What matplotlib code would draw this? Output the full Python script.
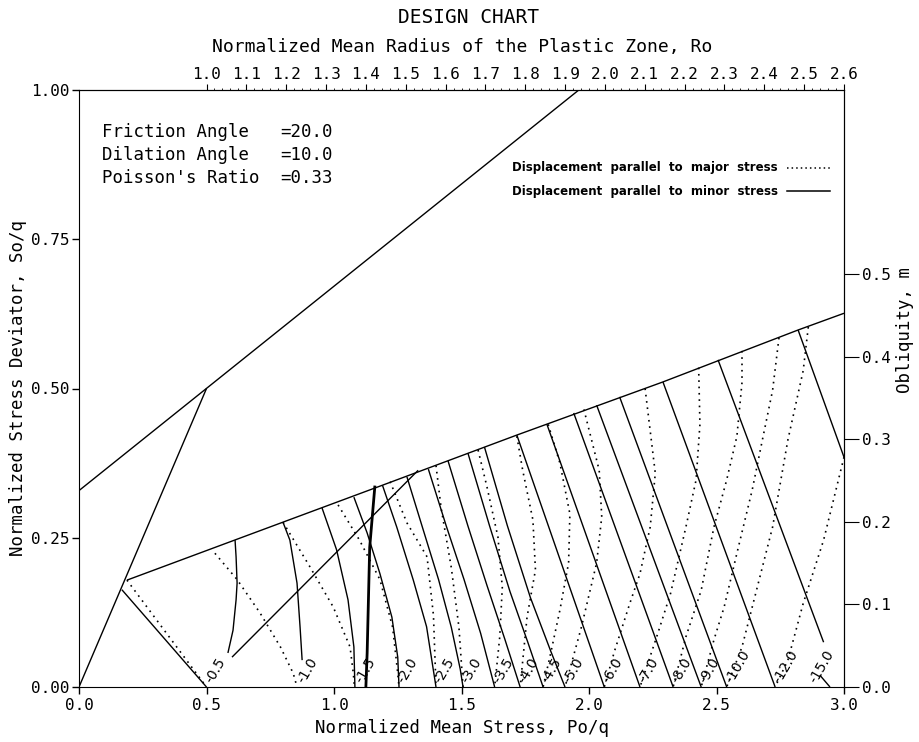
import numpy as np
import matplotlib.pyplot as plt

# lower boundary of the plastic chart region (Po/q, So/q)
env_po = [0.188, 0.61, 1.19, 1.717, 2.29, 2.82, 3.0]
env_so = [0.179, 0.246, 0.338, 0.422, 0.511, 0.598, 0.626]

# Mohr-Coulomb type upper line and the other straight guide lines
upper_po = [0.0, 1.96]
upper_so = [0.329, 1.0]
diag_po = [0.0, 0.5]
diag_so = [0.0, 0.5]
elastic_po = [0.5, 0.168]
elastic_so = [0.0, 0.163]
cross_po = [0.60, 1.33]
cross_so = [0.05, 0.363]
thick_po = [1.125, 1.13, 1.14, 1.16]
thick_so = [0.0, 0.057, 0.234, 0.335]

labels = ['-0.5', '-1.0', '-1.5', '-2.0', '-2.5', '-3.0', '-3.5', '-4.0', '-4.5',
          '-5.0', '-6.0', '-7.0', '-8.0', '-9.0', '-10.0', '-12.0', '-15.0']
label_po = [0.5, 0.862, 1.09, 1.255, 1.40, 1.506, 1.63, 1.73, 1.82,
            1.906, 2.06, 2.2, 2.33, 2.44, 2.54, 2.73, 2.87]

# displacement parallel to minor stress (solid)
minor_po = [
    [0.612, 0.616, 0.62, 0.616, 0.604, 0.584],
    [0.80, 0.827, 0.855, 0.867, 0.875],
    [0.953, 1.01, 1.055, 1.078, 1.082],
    [1.078, 1.13, 1.18, 1.227, 1.25, 1.255],
    [1.19, 1.246, 1.311, 1.363, 1.40],
    [1.286, 1.345, 1.41, 1.46, 1.495, 1.506],
    [1.37, 1.44, 1.51, 1.575, 1.63],
    [1.447, 1.525, 1.60, 1.67, 1.73],
    [1.525, 1.61, 1.69, 1.76, 1.82],
    [1.59, 1.68, 1.77, 1.85, 1.906],
    [1.717, 2.06],
    [1.835, 2.2],
    [1.94, 2.33],
    [2.03, 2.44],
    [2.12, 2.54],
    [2.29, 2.73],
    [2.506, 2.92],
    [2.82, 3.0],
]
minor_so = [
    [0.246, 0.218, 0.174, 0.146, 0.095, 0.057],
    [0.276, 0.246, 0.174, 0.10, 0.045],
    [0.30, 0.23, 0.146, 0.067, 0.0],
    [0.318, 0.258, 0.19, 0.117, 0.05, 0.0],
    [0.338, 0.268, 0.179, 0.101, 0.0],
    [0.352, 0.27, 0.18, 0.10, 0.03, 0.0],
    [0.365, 0.27, 0.18, 0.09, 0.0],
    [0.379, 0.27, 0.17, 0.08, 0.0],
    [0.392, 0.27, 0.16, 0.075, 0.0],
    [0.402, 0.27, 0.15, 0.06, 0.0],
    [0.422, 0.0],
    [0.44, 0.0],
    [0.459, 0.0],
    [0.472, 0.0],
    [0.486, 0.0],
    [0.511, 0.0],
    [0.548, 0.075],
    [0.598, 0.385],
]

# displacement parallel to major stress (dotted)
major_po = [
    [0.188, 0.5],
    [0.533, 0.62, 0.71, 0.79, 0.84, 0.855],
    [0.80, 0.906, 0.997, 1.063, 1.076, 1.08],
    [1.016, 1.10, 1.18, 1.23, 1.25, 1.255],
    [1.22, 1.286, 1.365, 1.39, 1.40],
    [1.40, 1.42, 1.46, 1.49, 1.506],
    [1.565, 1.60, 1.643, 1.66, 1.65, 1.63],
    [1.717, 1.74, 1.78, 1.79, 1.757, 1.73],
    [1.84, 1.886, 1.925, 1.92, 1.886, 1.85, 1.82],
    [1.98, 2.04, 2.05, 2.03, 1.97, 1.906],
    [2.22, 2.26, 2.24, 2.20, 2.16, 2.10, 2.06],
    [2.43, 2.435, 2.42, 2.38, 2.32, 2.27, 2.2],
    [2.60, 2.60, 2.58, 2.54, 2.49, 2.44, 2.38, 2.33],
    [2.745, 2.72, 2.68, 2.64, 2.58, 2.53, 2.49, 2.44],
    [2.86, 2.84, 2.78, 2.72, 2.63, 2.60, 2.54],
    [3.0, 2.92, 2.84, 2.78, 2.73],
]
major_so = [
    [0.179, 0.0],
    [0.224, 0.18, 0.124, 0.067, 0.023, 0.0],
    [0.276, 0.201, 0.134, 0.067, 0.022, 0.0],
    [0.305, 0.246, 0.18, 0.10, 0.023, 0.0],
    [0.344, 0.275, 0.218, 0.12, 0.0],
    [0.371, 0.30, 0.20, 0.10, 0.0],
    [0.397, 0.335, 0.251, 0.167, 0.084, 0.0],
    [0.42, 0.363, 0.28, 0.196, 0.117, 0.0],
    [0.44, 0.375, 0.29, 0.208, 0.129, 0.057, 0.0],
    [0.465, 0.363, 0.285, 0.208, 0.10, 0.0],
    [0.50, 0.358, 0.268, 0.19, 0.14, 0.06, 0.0],
    [0.535, 0.44, 0.347, 0.268, 0.157, 0.09, 0.0],
    [0.563, 0.51, 0.42, 0.347, 0.268, 0.162, 0.084, 0.0],
    [0.585, 0.497, 0.414, 0.33, 0.224, 0.134, 0.079, 0.0],
    [0.603, 0.53, 0.414, 0.268, 0.117, 0.067, 0.0],
    [0.385, 0.246, 0.14, 0.045, 0.0],
]

params = [('Friction Angle', '=20.0'), ('Dilation Angle', '=10.0'), ("Poisson's Ratio", '=0.33')]
ro_ticks = [1.0, 1.1, 1.2, 1.3, 1.4, 1.5, 1.6, 1.7, 1.8, 1.9, 2.0, 2.1, 2.2, 2.3, 2.4, 2.5, 2.6]
m_ticks = [0.0, 0.1, 0.2, 0.3, 0.4, 0.5]

mono = 'DejaVu Sans Mono'
plt.rcParams['font.family'] = mono

fig = plt.figure(figsize=(9.19, 7.42), dpi=100)
ax = fig.add_axes([79 / 919, 1 - 687 / 742, (844 - 79) / 919, (687 - 90) / 742])
ax.set_xlim(0, 3)
ax.set_ylim(0, 1)

k = dict(color='black', lw=1.0, solid_capstyle='butt')
ax.plot(env_po, env_so, **k)
ax.plot(upper_po, upper_so, **k)
ax.plot(diag_po, diag_so, **k)
ax.plot(elastic_po, elastic_so, **k)
ax.plot(cross_po, cross_so, **k)
ax.plot(thick_po, thick_so, color='black', lw=2.0)

for xs, ys in zip(minor_po, minor_so):
    ax.plot(xs, ys, **k)
for xs, ys in zip(major_po, major_so):
    ax.plot(xs, ys, color='black', lw=1.2, linestyle=(0, (1, 2.8)))

for lab, px in zip(labels, label_po):
    ax.text(px + 0.008, 0.008, lab, rotation=60, rotation_mode='anchor',
            ha='left', va='center', fontsize=10, family='DejaVu Sans')
# leader stroke for the -15.0 label
ax.plot([2.905, 2.945], [0.02, 0.0], **k)

# axes styling
ax.set_xticks(np.arange(0, 3.01, 0.5))
ax.set_xticklabels(['%.1f' % v for v in np.arange(0, 3.01, 0.5)])
ax.set_yticks([0, 0.25, 0.5, 0.75, 1.0])
ax.set_yticklabels(['0.00', '0.25', '0.50', '0.75', '1.00'])
ax.tick_params(axis='both', direction='out', length=5, width=1, labelsize=11.5, pad=3)
ax.tick_params(axis='y', pad=2)

top = ax.secondary_xaxis('top', functions=(lambda p: 1.0 + 0.64 * (p - 0.5),
                                            lambda r: 0.5 + (r - 1.0) / 0.64))
top.set_xticks(ro_ticks)
top.set_xticklabels(['%.1f' % v for v in ro_ticks])
top.set_xticks(np.arange(1.0, 2.601, 0.02), minor=True)
top.tick_params(axis='x', which='major', direction='out', length=4, labelsize=11.5, pad=2)
top.tick_params(axis='x', which='minor', direction='out', length=1.5)

right = ax.secondary_yaxis('right', functions=(lambda s: s / 1.3836, lambda m: m * 1.3836))
right.set_yticks(m_ticks)
right.set_yticklabels(['%.1f' % v for v in m_ticks])
right.tick_params(axis='y', direction='out', length=11, labelsize=11.5, pad=2)

fig.text(0.51, 0.976, 'DESIGN CHART', ha='center', va='center', fontsize=14)
fig.text(0.503, 0.937, 'Normalized Mean Radius of the Plastic Zone, Ro',
         ha='center', va='center', fontsize=13)
fig.text(0.503, 1 - 728 / 742, 'Normalized Mean Stress, Po/q',
         ha='center', va='center', fontsize=12.5)
fig.text(18 / 919, 1 - 388 / 742, 'Normalized Stress Deviator, So/q', rotation=90,
         ha='center', va='center', fontsize=12.5)
fig.text(0.985, 0.555, 'Obliquity, m', rotation=90, ha='center', va='center', fontsize=12.5)

for i, (name, val) in enumerate(params):
    y = 1 - (132 + 23 * i) / 742
    fig.text(102 / 919, y, name, ha='left', va='center', fontsize=12.5)
    fig.text(280 / 919, y, val, ha='left', va='center', fontsize=12.5)

leg = [('Displacement  parallel  to  major  stress', (0, (1, 2))),
       ('Displacement  parallel  to  minor  stress', '-')]
for i, (txt, ls) in enumerate(leg):
    yf = 1 - (168 + 23 * i) / 742
    fig.text(778 / 919, yf, txt, ha='right', va='center', fontsize=8.5,
             family='DejaVu Sans', weight='bold')
    fig.add_artist(plt.Line2D([787 / 919, 830 / 919], [yf, yf], color='black',
                              lw=1.1, linestyle=ls, transform=fig.transFigure))

fig.savefig('out.png', dpi=100)
